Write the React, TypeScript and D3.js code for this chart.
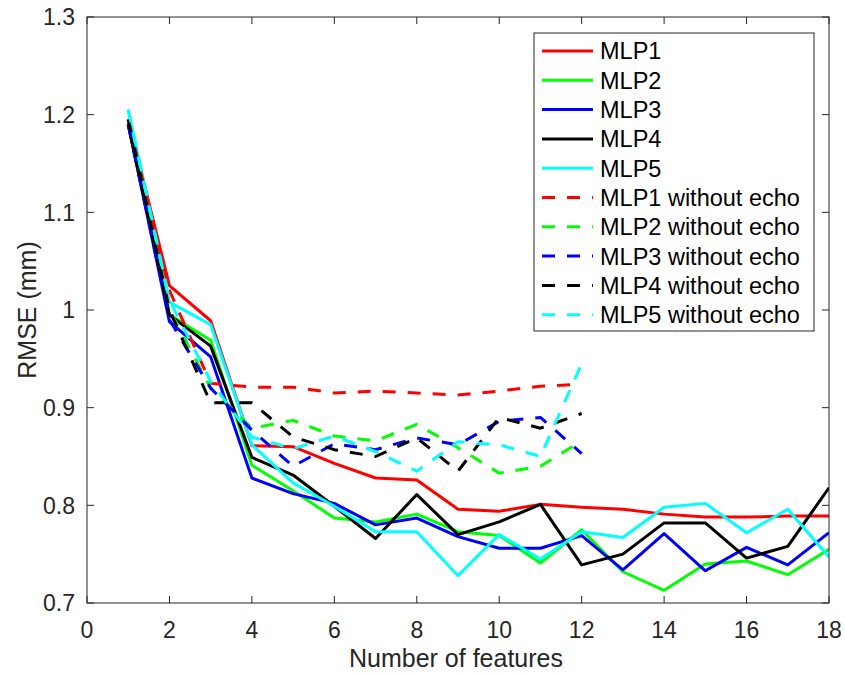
import React from "react";
import * as d3 from "d3";

const featuresFull = [1, 2, 3, 4, 5, 6, 7, 8, 9, 10, 11, 12, 13, 14, 15, 16, 17, 18];
const featuresNoEcho = [1, 2, 3, 4, 5, 6, 7, 8, 9, 10, 11, 12];

const mlp1 = [1.195, 1.025, 0.989, 0.861, 0.86, 0.843, 0.828, 0.826, 0.796, 0.794, 0.801, 0.798, 0.796, 0.791, 0.788, 0.788, 0.789, 0.789];
const mlp2 = [1.195, 0.995, 0.969, 0.841, 0.815, 0.787, 0.783, 0.791, 0.773, 0.769, 0.741, 0.775, 0.732, 0.713, 0.74, 0.743, 0.729, 0.755];
const mlp3 = [1.19, 0.988, 0.952, 0.828, 0.812, 0.802, 0.78, 0.787, 0.768, 0.756, 0.756, 0.769, 0.734, 0.771, 0.733, 0.757, 0.739, 0.772];
const mlp4 = [1.19, 0.995, 0.963, 0.849, 0.831, 0.799, 0.766, 0.811, 0.77, 0.783, 0.801, 0.739, 0.75, 0.782, 0.782, 0.746, 0.758, 0.818];
const mlp5 = [1.205, 1.008, 0.985, 0.862, 0.823, 0.799, 0.773, 0.773, 0.728, 0.77, 0.745, 0.773, 0.767, 0.798, 0.802, 0.772, 0.796, 0.747];

const mlp1NoEcho = [1.195, 1.02, 0.925, 0.921, 0.921, 0.915, 0.917, 0.915, 0.913, 0.917, 0.922, 0.924];
const mlp2NoEcho = [1.195, 1.0, 0.92, 0.879, 0.887, 0.871, 0.866, 0.883, 0.859, 0.833, 0.84, 0.866];
const mlp3NoEcho = [1.19, 0.99, 0.92, 0.877, 0.84, 0.863, 0.857, 0.869, 0.862, 0.886, 0.89, 0.853];
const mlp4NoEcho = [1.195, 1.0, 0.905, 0.905, 0.87, 0.857, 0.85, 0.869, 0.835, 0.89, 0.879, 0.894];
const mlp5NoEcho = [1.205, 1.01, 0.927, 0.87, 0.858, 0.871, 0.855, 0.835, 0.865, 0.862, 0.85, 0.945];

const xTicks = [0, 2, 4, 6, 8, 10, 12, 14, 16, 18];
const yTicks = [0.7, 0.8, 0.9, 1, 1.1, 1.2, 1.3];

type Series = { name: string; color: string; dashed: boolean; xs: number[]; ys: number[] };

const series: Series[] = [
  { name: "MLP1", color: "#ff0000", dashed: false, xs: featuresFull, ys: mlp1 },
  { name: "MLP2", color: "#00ff00", dashed: false, xs: featuresFull, ys: mlp2 },
  { name: "MLP3", color: "#0000ff", dashed: false, xs: featuresFull, ys: mlp3 },
  { name: "MLP4", color: "#000000", dashed: false, xs: featuresFull, ys: mlp4 },
  { name: "MLP5", color: "#00ffff", dashed: false, xs: featuresFull, ys: mlp5 },
  { name: "MLP1 without echo", color: "#ff0000", dashed: true, xs: featuresNoEcho, ys: mlp1NoEcho },
  { name: "MLP2 without echo", color: "#00ff00", dashed: true, xs: featuresNoEcho, ys: mlp2NoEcho },
  { name: "MLP3 without echo", color: "#0000ff", dashed: true, xs: featuresNoEcho, ys: mlp3NoEcho },
  { name: "MLP4 without echo", color: "#000000", dashed: true, xs: featuresNoEcho, ys: mlp4NoEcho },
  { name: "MLP5 without echo", color: "#00ffff", dashed: true, xs: featuresNoEcho, ys: mlp5NoEcho },
];

const W = 845;
const H = 673;
const left = 87;
const right = 829;
const top = 17;
const bottom = 603;
const axisColor = "#262626";
const font = "'Liberation Sans', Arial, Helvetica, sans-serif";
const dash = "13,12";
const tickFont = 23;
const titleFont = 25;
const legendFont = 23.5;

export default function App() {
  const x = d3.scaleLinear().domain([0, 18]).range([left, right]);
  const y = d3.scaleLinear().domain([0.7, 1.3]).range([bottom, top]);
  const tickLen = 7;

  const line = (s: Series) =>
    d3
      .line<number>()
      .x((_, i) => x(s.xs[i]))
      .y((d) => y(d))(s.ys) || "";

  const legX = 534;
  const legY = 33;
  const legW = 280;
  const legH = 298;
  const rowH = 29.3;

  return (
    <svg
      width={W}
      height={H}
      style={{ position: "absolute", left: 0, top: 0, background: "#fff" }}
      fontFamily={font}
    >
      <rect x={0} y={0} width={W} height={H} fill="#fff" />
      <defs>
        <clipPath id="plotClip">
          <rect x={left} y={top} width={right - left} height={bottom - top} />
        </clipPath>
      </defs>

      {/* data lines */}
      <g clipPath="url(#plotClip)">
        {series.map((s) => (
          <path
            key={s.name}
            d={line(s)}
            fill="none"
            stroke={s.color}
            strokeWidth={3}
            strokeLinejoin="round"
            strokeDasharray={s.dashed ? dash : undefined}
          />
        ))}
      </g>

      {/* axes box */}
      <rect
        x={left}
        y={top}
        width={right - left}
        height={bottom - top}
        fill="none"
        stroke={axisColor}
        strokeWidth={1}
      />

      {/* x ticks */}
      {xTicks.map((t) => (
        <g key={"x" + t}>
          <line x1={x(t)} x2={x(t)} y1={bottom} y2={bottom - tickLen} stroke={axisColor} />
          <line x1={x(t)} x2={x(t)} y1={top} y2={top + tickLen} stroke={axisColor} />
          <text x={x(t)} y={bottom + 35} textAnchor="middle" fontSize={tickFont} fill="#262626">
            {t}
          </text>
        </g>
      ))}

      {/* y ticks */}
      {yTicks.map((t) => (
        <g key={"y" + t}>
          <line x1={left} x2={left + tickLen} y1={y(t)} y2={y(t)} stroke={axisColor} />
          <line x1={right} x2={right - tickLen} y1={y(t)} y2={y(t)} stroke={axisColor} />
          <text
            x={left - 12}
            y={y(t)}
            dy="0.36em"
            textAnchor="end"
            fontSize={tickFont}
            fill="#262626"
          >
            {d3.format("~g")(t)}
          </text>
        </g>
      ))}

      {/* axis titles */}
      <text x={(left + right) / 2 - 2} y={bottom + 64} textAnchor="middle" fontSize={titleFont} fill="#262626">
        Number of features
      </text>
      <text
        transform={`translate(36, ${(top + bottom) / 2}) rotate(-90)`}
        textAnchor="middle"
        fontSize={titleFont}
        fill="#262626"
      >
        RMSE (mm)
      </text>

      {/* legend */}
      <rect x={legX} y={legY} width={legW} height={legH} fill="#fff" stroke={axisColor} strokeWidth={1} />
      {series.map((s, i) => {
        const cy = legY + 18 + i * rowH;
        return (
          <g key={"leg" + s.name}>
            <line
              x1={legX + 8}
              x2={legX + 59}
              y1={cy}
              y2={cy}
              stroke={s.color}
              strokeWidth={3}
              strokeDasharray={s.dashed ? dash : undefined}
            />
            <text x={legX + 66} y={cy} dy="0.36em" fontSize={legendFont} fill="#000">
              {s.name}
            </text>
          </g>
        );
      })}
    </svg>
  );
}
